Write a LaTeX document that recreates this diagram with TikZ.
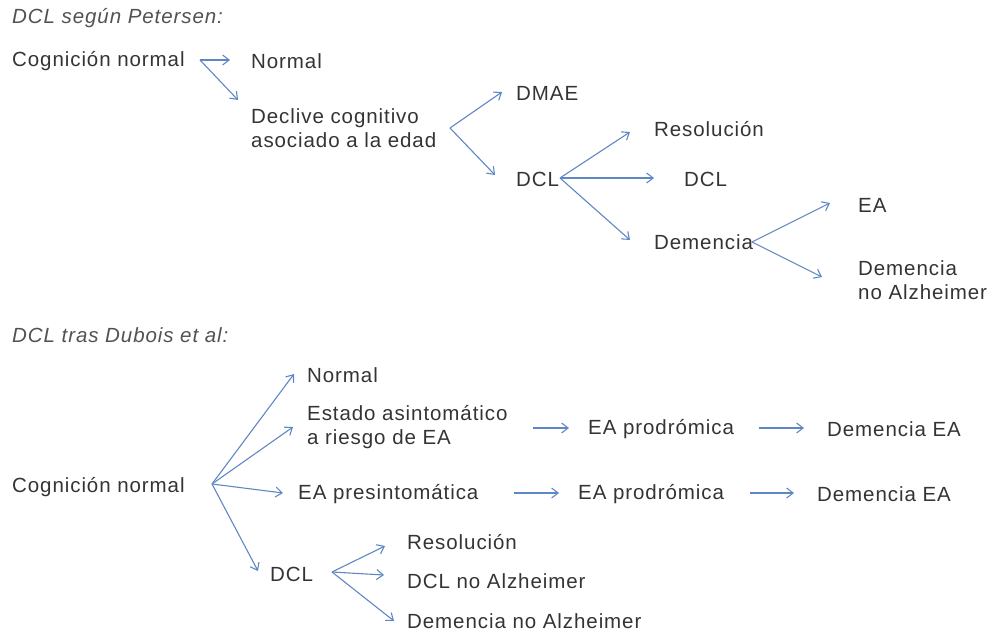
\documentclass[tikz,border=0pt]{standalone}
\usepackage{fontspec}
\setmainfont{Liberation Sans}[LetterSpace=4.5]
\usetikzlibrary{arrows.meta}
\definecolor{txt}{RGB}{52,52,52}
\definecolor{arr}{RGB}{95,135,195}
\tikzset{
  lbl/.style={anchor=west, inner sep=0pt, text=txt, align=left, font=\fontsize{20.5}{24}\selectfont},
  hdr/.style={anchor=west, inner sep=0pt, text=txt!85, font=\itshape\fontsize{20.5}{24}\selectfont},
  conn/.style={draw=arr, line width=1.1pt, -{Straight Barb[length=6.5pt,width=10pt,line width=1.1pt]}}
}
\begin{document}
\begin{tikzpicture}[x=1pt,y=-1pt]
\useasboundingbox (0,0) rectangle (993,634);
% ---------- top ----------
\node[hdr] (h1) at (12,18) {DCL según Petersen:};
\node[lbl] (cn1) at (12,61) {Cognición normal};
\node[lbl] (n1) at (251,61) {Normal};
\node[lbl] (dec) at (251,128) {Declive cognitivo\\asociado a la edad};
\node[lbl] (dmae) at (516,93) {DMAE};
\node[lbl] (dcl1) at (516,179) {DCL};
\node[lbl] (res1) at (654,129) {Resolución};
\node[lbl] (dcl2) at (684,179) {DCL};
\node[lbl] (dem1) at (654,242) {Demencia};
\node[lbl] (ea1) at (858,205) {EA};
\node[lbl] (dna1) at (858,280) {Demencia\\no Alzheimer};

\coordinate (b1) at (200,60);
\coordinate (t1a) at (230,60);
\coordinate (t1b) at (238,100);
\coordinate (b2) at (450,128);
\coordinate (t2a) at (502,92);
\coordinate (t2b) at (495,175);
\coordinate (b3) at (560,178);
\coordinate (t3a) at (630,132);
\coordinate (t3b) at (654,178);
\coordinate (t3c) at (630,240);
\coordinate (b4) at (752,242);
\coordinate (t4a) at (830,203);
\coordinate (t4b) at (822,277);

\draw[conn] (b1) -- (t1a);
\draw[conn] (b1) -- (t1b);
\draw[conn] (b2) -- (t2a);
\draw[conn] (b2) -- (t2b);
\draw[conn] (b3) -- (t3a);
\draw[conn] (b3) -- (t3b);
\draw[conn] (b3) -- (t3c);
\draw[conn] (b4) -- (t4a);
\draw[conn] (b4) -- (t4b);

% ---------- bottom ----------
\node[hdr] (h2) at (12,335) {DCL tras Dubois et al:};
\node[lbl] (cn2) at (12,487) {Cognición normal};
\node[lbl] (n2) at (307,375) {Normal};
\node[lbl] (est) at (307,427) {Estado asintomático\\a riesgo de EA};
\node[lbl] (pre) at (298,494) {EA presintomática};
\node[lbl] (dcl3) at (270,574) {DCL};
\node[lbl] (res2) at (407,542) {Resolución};
\node[lbl] (dcln) at (407,581) {DCL no Alzheimer};
\node[lbl] (dna2) at (407,621) {Demencia no Alzheimer};
\node[lbl] (pro1) at (588,429) {EA prodrómica};
\node[lbl] (dea1) at (827,429) {Demencia EA};
\node[lbl] (pro2) at (578,494) {EA prodrómica};
\node[lbl] (dea2) at (817,494) {Demencia EA};

\coordinate (b5) at (212,484);
\coordinate (t5a) at (294,374);
\coordinate (t5b) at (293,427);
\coordinate (t5c) at (283,493);
\coordinate (t5d) at (258,571);
\coordinate (b6) at (332,572);
\coordinate (t6a) at (385,546);
\coordinate (t6b) at (384,575);
\coordinate (t6c) at (394,621);

\draw[conn] (b5) -- (t5a);
\draw[conn] (b5) -- (t5b);
\draw[conn] (b5) -- (t5c);
\draw[conn] (b5) -- (t5d);
\draw[conn] (b6) -- (t6a);
\draw[conn] (b6) -- (t6b);
\draw[conn] (b6) -- (t6c);

\coordinate (s7) at (533,428);
\coordinate (e7) at (569,428);
\coordinate (s8) at (759,428);
\coordinate (e8) at (804,428);
\coordinate (s9) at (514,493);
\coordinate (e9) at (559,493);
\coordinate (s10) at (750,493);
\coordinate (e10) at (794,493);
\draw[conn] (s7) -- (e7);
\draw[conn] (s8) -- (e8);
\draw[conn] (s9) -- (e9);
\draw[conn] (s10) -- (e10);
\end{tikzpicture}
\end{document}
